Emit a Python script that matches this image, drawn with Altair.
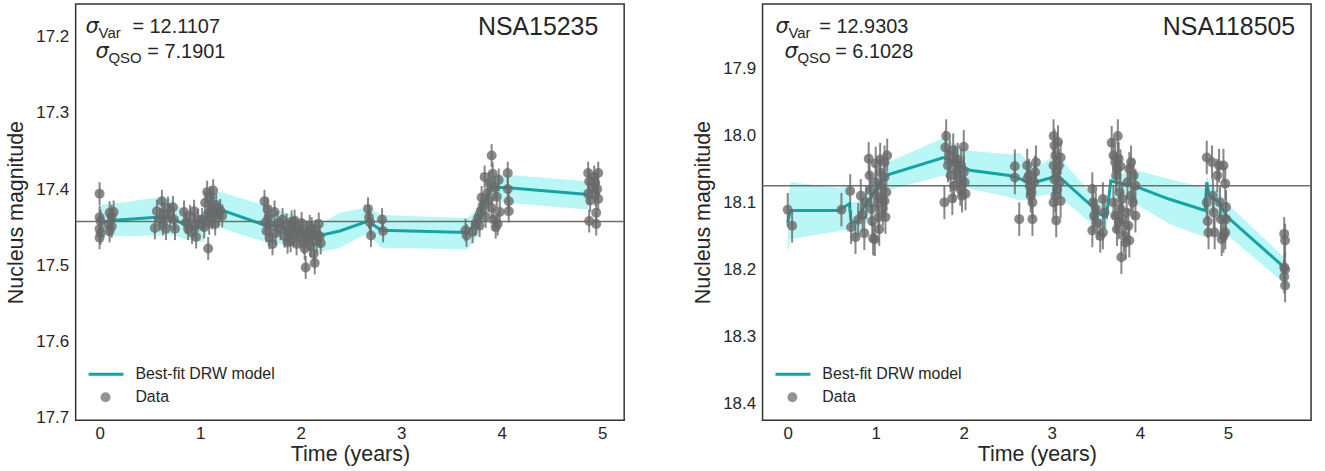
import altair as alt
import pandas as pd

# ---------------- data: left panel (NSA15235) ----------------
L_T = [0.00, 0.00, 0.01, 0.00, 0.01, 0.00, 0.09, 0.10, 0.12, 0.12, 0.10, 0.14,
       0.55, 0.57, 0.60, 0.62, 0.64, 0.63, 0.66, 0.68, 0.73, 0.74, 0.75, 0.70,
       0.84, 0.86, 0.88, 0.90, 0.92, 0.94, 0.95, 0.96, 0.98, 1.08,
       1.02, 1.04, 1.05, 1.07, 1.08, 1.09, 1.10, 1.11, 1.12, 1.13, 1.14, 1.15, 1.16, 1.18, 1.20, 1.22,
       1.64, 1.65, 1.66, 1.67, 1.68, 1.69, 1.70, 1.72, 1.74, 1.75, 1.77,
       1.80, 1.82, 1.84, 1.86, 1.88, 1.90, 1.91, 1.93, 1.95, 1.96, 1.98, 2.00, 2.01, 2.03, 2.04, 2.05,
       2.06, 2.08, 2.09, 2.10, 2.12, 2.13, 2.14, 2.15, 2.16, 2.18, 2.19, 2.20, 1.87, 1.94, 2.02, 2.11,
       2.67, 2.68, 2.69, 2.70, 2.81, 2.82,
       3.64, 3.65, 3.71, 3.74, 3.76, 3.78, 3.79, 3.80, 3.81, 3.83, 3.84, 3.86, 3.87, 3.88, 3.90, 3.90,
       3.91, 3.92, 3.93, 3.94, 3.95, 3.96, 3.97, 3.98, 4.06, 4.06, 4.07, 4.07,
       4.86, 4.87, 4.86, 4.87, 4.88, 4.90, 4.92, 4.93, 4.93, 4.94, 4.94, 4.95, 4.96, 4.96]
L_M = [17.406, 17.437, 17.442, 17.452, 17.458, 17.464, 17.447, 17.431, 17.436, 17.449, 17.455, 17.430,
       17.451, 17.429, 17.440, 17.416, 17.432, 17.446, 17.452, 17.425, 17.424, 17.440, 17.452, 17.436,
       17.430, 17.444, 17.452, 17.436, 17.457, 17.429, 17.447, 17.463, 17.441, 17.478,
       17.440, 17.450, 17.418, 17.404, 17.432, 17.445, 17.411, 17.425, 17.438, 17.402, 17.430, 17.446,
       17.421, 17.433, 17.428, 17.435,
       17.416, 17.444, 17.455, 17.426, 17.437, 17.464, 17.449, 17.472, 17.430, 17.458, 17.445,
       17.452, 17.440, 17.462, 17.447, 17.456, 17.468, 17.443, 17.460, 17.450, 17.472, 17.455, 17.463,
       17.445, 17.470, 17.478, 17.503, 17.458, 17.466, 17.449, 17.474, 17.460, 17.485, 17.497, 17.455,
       17.468, 17.446, 17.462, 17.471, 17.470, 17.442, 17.455, 17.452,
       17.426, 17.437, 17.444, 17.461, 17.440, 17.455,
       17.454, 17.461, 17.456, 17.446, 17.439, 17.448, 17.430, 17.411, 17.422, 17.384, 17.436, 17.405,
       17.415, 17.392, 17.356, 17.425, 17.380, 17.440, 17.398, 17.450, 17.410, 17.446, 17.388, 17.430,
       17.379, 17.400, 17.416, 17.429,
       17.379, 17.390, 17.406, 17.442, 17.415, 17.398, 17.384, 17.392, 17.407, 17.431, 17.446, 17.400,
       17.379, 17.413]
L_ERR = 0.015

L_MT = [0.0, 0.15, 0.57, 0.70, 0.87, 1.03, 1.08, 1.20, 1.61, 1.79, 2.19, 2.39, 2.67, 2.80,
        3.66, 3.77, 3.87, 3.92, 4.04, 4.86]
L_MODEL = [17.444, 17.441, 17.437, 17.438, 17.448, 17.451, 17.429, 17.427, 17.446, 17.449,
           17.461, 17.455, 17.442, 17.454, 17.457, 17.440, 17.403, 17.398, 17.398, 17.407]
L_UP = [17.421, 17.419, 17.411, 17.413, 17.431, 17.433, 17.405, 17.404, 17.420, 17.428,
        17.446, 17.431, 17.424, 17.434, 17.438, 17.425, 17.387, 17.380, 17.381, 17.390]
L_LOW = [17.462, 17.462, 17.461, 17.460, 17.466, 17.470, 17.452, 17.451, 17.468, 17.472,
         17.483, 17.477, 17.458, 17.477, 17.479, 17.460, 17.420, 17.415, 17.418, 17.427]
L_MEAN = 17.4427
L_YTICKS = [17.2, 17.3, 17.4, 17.5, 17.6, 17.7]

# ---------------- data: right panel (NSA118505) ----------------
R_T = [0.00, 0.05, 0.61, 0.71, 0.72,
       0.77, 0.80, 0.83, 0.85, 0.87, 0.89, 0.92, 0.93, 0.94, 0.95, 0.96, 0.97, 0.99, 1.00, 1.00, 1.01,
       1.02, 1.03, 1.04, 1.05, 1.05, 1.06, 1.07, 1.08, 1.10, 1.10, 1.10, 1.11, 1.12, 1.13,
       1.78, 1.79, 1.80, 1.82, 1.84, 1.85, 1.87, 1.88, 1.89, 1.90, 1.92, 1.93, 1.95, 1.96, 1.98, 2.00,
       2.00, 2.01, 2.02, 1.97,
       2.58, 2.58, 2.63, 2.72, 2.72, 2.74, 2.75, 2.76, 2.77, 2.78, 2.78, 2.80, 2.81, 2.82,
       3.02, 3.03, 3.04, 3.02, 3.05, 3.03, 3.06, 3.04, 3.02, 3.05, 3.10, 3.08, 3.10, 3.07, 3.09,
       3.46, 3.47, 3.48, 3.46, 3.50, 3.52, 3.55, 3.58, 3.60, 3.58,
       3.68, 3.75, 3.70, 3.72, 3.74, 3.73, 3.76, 3.78, 3.70, 3.72, 3.74, 3.76, 3.78, 3.80, 3.80, 3.82,
       3.79, 3.88, 3.86, 3.88, 3.90, 3.90, 3.92, 3.93, 3.95, 3.85, 3.87, 3.95, 3.84, 3.77,
       4.76, 4.76, 4.77, 4.78, 4.82, 4.83, 4.84, 4.85, 4.88, 4.90, 4.91, 4.92, 4.93, 4.95, 4.97, 4.98,
       4.98, 4.97, 4.95,
       5.64, 5.65, 5.64, 5.65, 5.64, 5.65]
R_M = [18.111, 18.135, 18.111, 18.083, 18.137,
       18.152, 18.126, 18.090, 18.118, 18.146, 18.100, 18.035, 18.060, 18.082, 18.110, 18.128, 18.154,
       18.155, 18.042, 18.070, 18.090, 18.101, 18.122, 18.140, 18.036, 18.055, 18.076, 18.095, 18.110,
       18.040, 18.062, 18.098, 18.122, 18.085, 18.030,
       18.100, 18.018, 18.001, 18.045, 18.030, 18.060, 18.094, 18.022, 18.075, 18.040, 18.052, 18.036,
       18.066, 18.080, 18.090, 18.017, 18.055, 18.070, 18.087, 18.045,
       18.046, 18.063, 18.125, 18.045, 18.065, 18.060, 18.076, 18.090, 18.085, 18.100, 18.125, 18.070,
       18.055, 18.040,
       18.001, 18.015, 18.030, 18.045, 18.055, 18.066, 18.080, 18.090, 18.100, 18.127, 18.098, 18.045,
       18.033, 18.010, 18.070,
       18.080, 18.100, 18.120, 18.142, 18.110, 18.131, 18.150, 18.095, 18.115, 18.145,
       18.011, 18.001, 18.030, 18.040, 18.050, 18.060, 18.035, 18.046, 18.100, 18.120, 18.140, 18.130,
       18.110, 18.095, 18.125, 18.150, 18.182, 18.157, 18.070, 18.050, 18.040, 18.090, 18.100, 18.060,
       18.075, 18.115, 18.135, 18.120, 18.160, 18.085,
       18.033, 18.100, 18.128, 18.145, 18.040, 18.090, 18.115, 18.145, 18.060, 18.045, 18.100, 18.125,
       18.155, 18.045, 18.072, 18.107, 18.125, 18.145, 18.150,
       18.147, 18.157, 18.197, 18.200, 18.211, 18.224]
R_ERR = 0.025

R_MT = [0.00, 0.03, 0.58, 0.70, 0.72, 0.80, 0.85, 1.11, 1.77, 2.07, 2.52, 2.64, 2.73, 2.86, 2.97,
        3.06, 3.45, 3.54, 3.62, 3.67, 3.73, 3.88, 3.99, 4.33, 4.74, 4.76, 4.79, 4.90, 4.98, 5.64]
R_MODEL = [18.130, 18.112, 18.112, 18.102, 18.130, 18.128, 18.110, 18.060, 18.033, 18.052, 18.060,
           18.065, 18.070, 18.068, 18.064, 18.059, 18.105, 18.117, 18.122, 18.068, 18.070, 18.075,
           18.078, 18.095, 18.112, 18.070, 18.090, 18.100, 18.120, 18.197]
R_UP = [18.100, 18.070, 18.078, 18.075, 18.100, 18.098, 18.085, 18.042, 18.004, 18.023, 18.028,
        18.026, 18.040, 18.045, 18.035, 18.028, 18.088, 18.098, 18.105, 18.062, 18.058, 18.055,
        18.053, 18.065, 18.078, 18.060, 18.070, 18.085, 18.100, 18.182]
R_LOW = [18.177, 18.155, 18.143, 18.140, 18.155, 18.154, 18.140, 18.083, 18.060, 18.080, 18.092,
         18.097, 18.095, 18.090, 18.088, 18.088, 18.132, 18.138, 18.140, 18.092, 18.094, 18.098,
         18.105, 18.132, 18.152, 18.100, 18.120, 18.128, 18.147, 18.221]
R_MEAN = 18.075
R_YTICKS = [17.9, 18.0, 18.1, 18.2, 18.3, 18.4]

X_TICKS = [0, 1, 2, 3, 4, 5]

# ---------------- styles ----------------
FONT = "Liberation Sans"
TXT = "#262626"
GRAY = "#696969"
TEAL = "#12A5A4"
BAND = "#B9F7F6"
W, H = 551, 418


def text(s, x, y, size, align="left", style="normal", font=FONT, baseline="alphabetic"):
    return alt.Chart(pd.DataFrame({"s": [s]})).mark_text(
        align=align, baseline=baseline, fontSize=size, font=font, fontStyle=style, color=TXT
    ).encode(x=alt.value(x), y=alt.value(y), text="s:N")


def panel(pt, pm, err, mt, mm, mu, ml, mean, xdom, ydom, yticks, name, svar, sqso, name_x,
          sig1_x, eq1_x, sig2_x, eq2_x):
    pts = pd.DataFrame({"t": pt, "m": pm})
    mod = pd.DataFrame({"t": mt, "m": mm, "u": mu, "l": ml})
    xs = alt.Scale(domain=xdom, nice=False, zero=False)
    ys = alt.Scale(domain=ydom, nice=False, zero=False, reverse=True)
    xax = alt.Axis(values=X_TICKS, title="Time (years)", format="d")
    yax = alt.Axis(values=yticks, title="Nucleus magnitude", format=".1f")

    def X(f):
        return alt.X(f, type="quantitative", scale=xs, axis=xax)

    def Y(f):
        return alt.Y(f, type="quantitative", scale=ys, axis=yax)

    band = alt.Chart(mod).mark_area(color=BAND, opacity=1).encode(x=X("t"), y=Y("u"), y2="l")
    line = alt.Chart(mod).mark_line(color=TEAL, strokeWidth=3).encode(x=X("t"), y=Y("m"))
    hl = alt.Chart(pd.DataFrame({"h": [mean]})).mark_rule(color="#6e6e6e", strokeWidth=1.5).encode(y=Y("h"))
    eb = alt.Chart(pts).transform_calculate(
        lo=f"datum.m - {err}", hi=f"datum.m + {err}"
    ).mark_rule(color=GRAY, opacity=0.8, strokeWidth=2).encode(x=X("t"), y=Y("lo"), y2="hi")
    dots = alt.Chart(pts).mark_circle(size=100, color=GRAY, opacity=0.78).encode(x=X("t"), y=Y("m"))

    annot = [
        text("σ", sig1_x, 29, 21, style="italic", font="DejaVu Sans"),
        text("Var", sig1_x + 13, 34, 15),
        text(f"= {svar}", eq1_x, 29, 20),
        text("σ", sig2_x, 54.5, 21, style="italic", font="DejaVu Sans"),
        text("QSO", sig2_x + 13, 59, 15),
        text(f"= {sqso}", eq2_x, 54.5, 20),
        text(name, name_x, 31, 25, align="right"),
        text("Best-fit DRW model", 60, 372, 16, baseline="middle"),
        text("Data", 60, 395, 16, baseline="middle"),
    ]
    leg_line = alt.Chart(pd.DataFrame({"a": [0]})).mark_rule(color=TEAL, strokeWidth=3).encode(
        x=alt.value(13), x2=alt.value(48), y=alt.value(372))
    leg_dot = alt.Chart(pd.DataFrame({"a": [0]})).mark_circle(size=100, color=GRAY, opacity=0.72).encode(
        x=alt.value(30), y=alt.value(395))

    return alt.layer(band, line, hl, eb, dots, leg_line, leg_dot, *annot).properties(width=W, height=H)


left = panel(L_T, L_M, L_ERR, L_MT, L_MODEL, L_UP, L_LOW, L_MEAN, [-0.238, 5.218], [17.157, 17.7035],
             L_YTICKS, "NSA15235", "12.1107", "7.1901", 525, 10, 57, 20, 72)
right = panel(R_T, R_M, R_ERR, R_MT, R_MODEL, R_UP, R_LOW, R_MEAN, [-0.286, 5.945], [17.804, 18.425],
              R_YTICKS, "NSA118505", "12.9303", "6.1028", 535, 13, 57, 22, 73)

chart = alt.hconcat(left, right, spacing=66).properties(
    padding={"left": 5, "top": 2, "right": 12, "bottom": 0}
).configure_view(
    stroke="#333333", strokeWidth=1.5
).configure_axis(
    domain=False, ticks=False, grid=False,
    labelFont=FONT, labelFontSize=17, labelColor=TXT,
    titleFont=FONT, titleFontSize=21.5, titleFontWeight="normal", titleColor=TXT,
).configure_axisY(labelPadding=7, titlePadding=8).configure_axisX(labelPadding=5, titlePadding=3)

chart.save("out.html", embed_options={"renderer": "svg", "actions": False})
